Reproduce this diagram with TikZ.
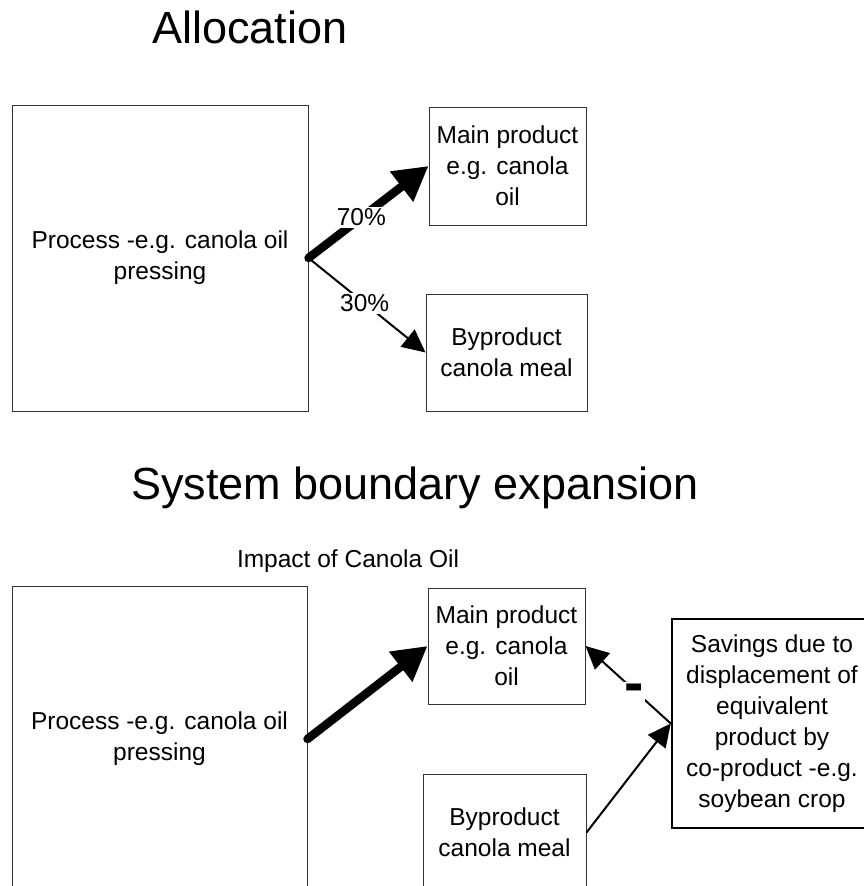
\documentclass[tikz,border=0pt]{standalone}
\usepackage{fontspec}
\setmainfont{Liberation Sans}
\usetikzlibrary{arrows.meta}
\begin{document}
\begin{tikzpicture}[x=1pt,y=-1pt,
  box/.style={draw=black!80, line width=1pt, inner sep=0pt, align=center,
    font=\fontsize{24.5}{31}\selectfont},
  bigbox/.style={box, draw=black, line width=2.5pt},
  titletext/.style={anchor=base, inner sep=0pt, font=\fontsize{45}{54}\selectfont},
  subtext/.style={anchor=base, inner sep=0pt, font=\fontsize{24.5}{30}\selectfont},
  thickarrow/.style={line width=8.5pt, line cap=round, -{Triangle[length=34pt,width=36pt]}},
  thinarrow/.style={line width=2pt, -{Triangle[length=23pt,width=22pt]}},
  pct/.style={fill=white, inner sep=2pt, font=\fontsize{24.5}{24.5}\selectfont},
  minus/.style={fill=white, inner sep=1.5pt, font=\fontsize{58}{58}\bfseries}
]
\useasboundingbox (0,0) rectangle (864,886);

% ---------- Allocation ----------
\node[titletext] (t1) at (250,43) {Allocation};
\node[box, minimum width=296pt, minimum height=306pt] (procA) at (160,258)
  {Process -e.g. canola oil\\pressing};
\node[box, minimum width=157pt, minimum height=118pt] (mainA) at (507.5,166)
  {Main product\\e.g. canola\\oil};
\node[box, minimum width=161pt, minimum height=117pt] (byA) at (506.5,352.5)
  {Byproduct\\canola meal};
\draw[thickarrow] (procA.east) -- node[pct, pos=0.44] (l70) {70\%} (mainA.west);
\draw[thinarrow] (procA.east) -- node[pct, pos=0.48] (l30) {30\%} (byA.west);

% ---------- System boundary expansion ----------
\node[titletext] (t2) at (415,499) {System boundary expansion};
\node[subtext] (impact) at (348,567) {Impact of Canola Oil};
\node[box, minimum width=295pt, minimum height=306pt] (procB) at (159.5,739)
  {Process -e.g. canola oil\\pressing};
\node[box, minimum width=157pt, minimum height=116pt] (mainB) at (506.5,646)
  {Main product\\e.g. canola\\oil};
\node[box, minimum width=163pt, minimum height=117pt] (byB) at (504.5,832.5)
  {Byproduct\\canola meal};
\node[bigbox, minimum width=200pt, minimum height=209pt] (sav) at (772,723.5)
  {Savings due to\\displacement of\\equivalent\\product by\\co-product -e.g.\\soybean crop};
\draw[thickarrow] (procB.east) -- (mainB.west);
\draw[thinarrow] (sav.west) -- node[minus, pos=0.43, yshift=-3pt] (lminus) {-} (mainB.east);
\draw[thinarrow] (byB.east) -- (sav.west);
\end{tikzpicture}
\end{document}
